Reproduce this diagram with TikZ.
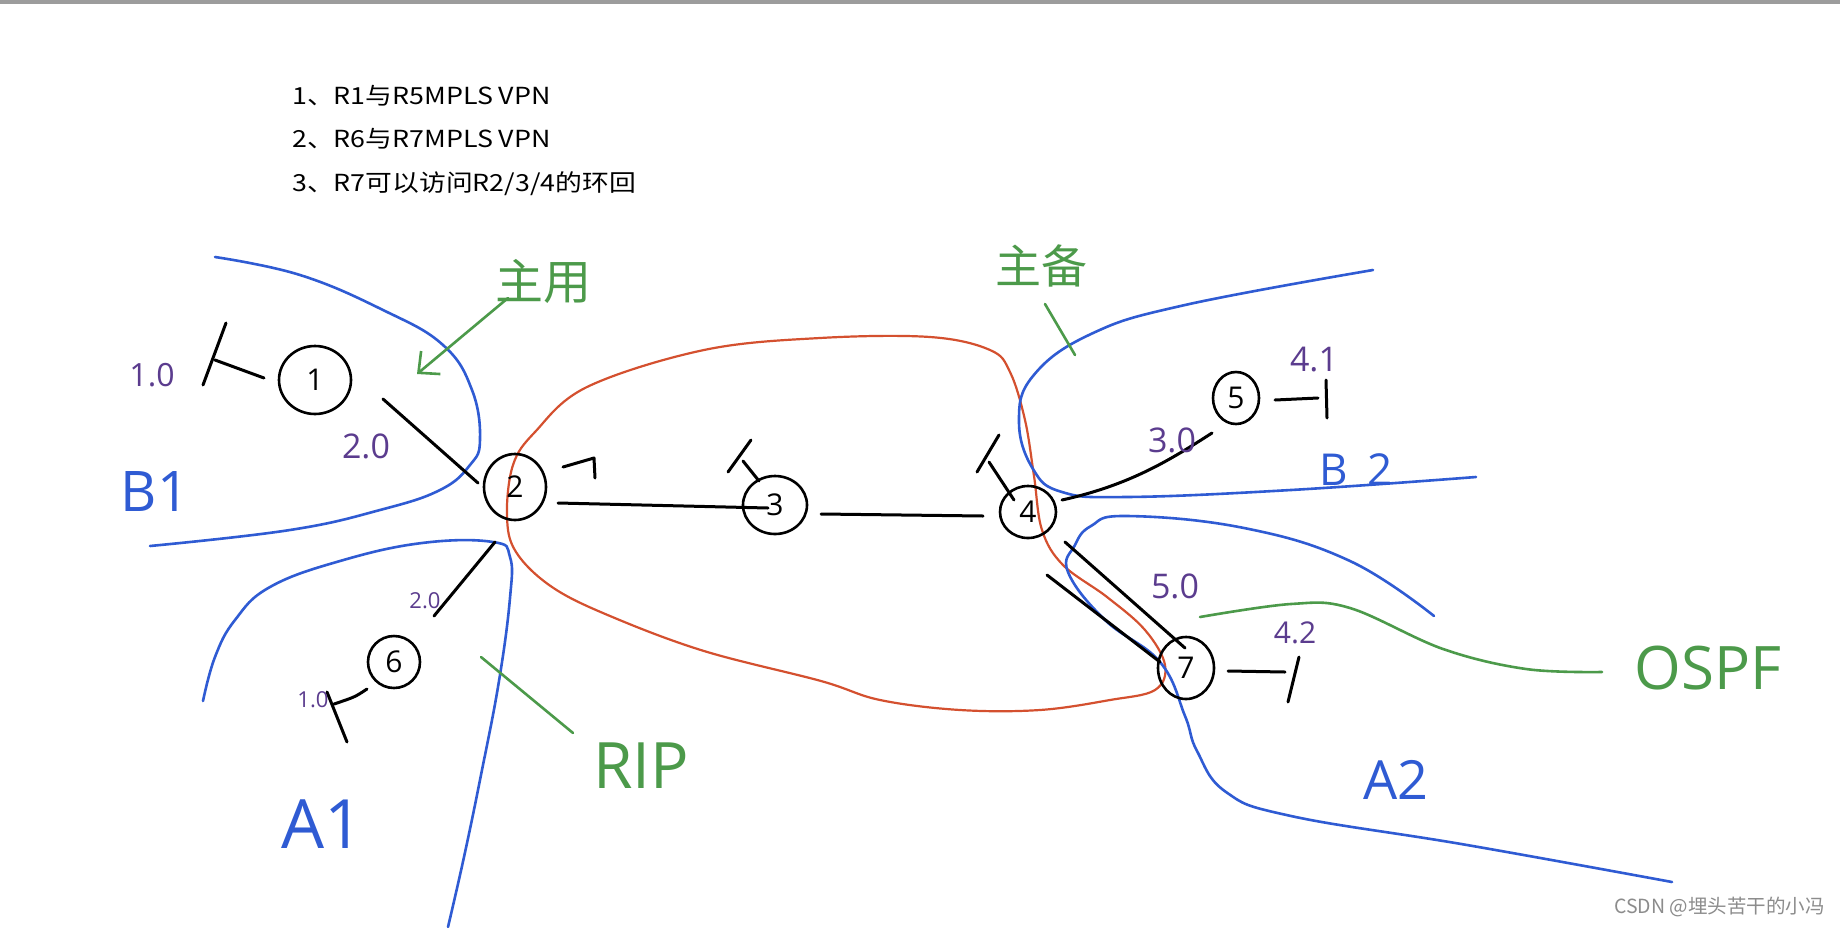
\documentclass[tikz,border=0pt]{standalone}
\usepackage{fontspec}
\setmainfont{Noto Sans CJK SC}
\newfontfamily\listfont[FakeStretch=1.14]{Noto Sans CJK SC}
\newfontfamily\hand{Open Sans}
\newfontfamily\cjkhand{Noto Sans CJK SC}
\usetikzlibrary{shapes.geometric,arrows.meta}
\definecolor{sblue}{HTML}{2F5BD3}
\definecolor{sred}{HTML}{D4502F}
\definecolor{sgreen}{HTML}{4C9A4A}
\definecolor{spurple}{HTML}{5B3C8E}
\definecolor{wm}{HTML}{8C8C8C}
\definecolor{topbar}{HTML}{9C9C9C}
\begin{document}
\begin{tikzpicture}[x=1pt,y=-1pt,
  router/.style={draw=black, line width=2.6pt, ellipse, inner sep=0pt, font=\hand\fontsize{30}{30}\selectfont},
  link/.style={black, line width=3pt, line cap=round, line join=round},
  zone/.style={sblue, line width=2.6pt, line cap=round},
  loopline/.style={sred, line width=2.2pt},
  note/.style={sgreen, line width=2.6pt, line cap=round},
  iplab/.style={text=spurple, inner sep=0pt, font=\hand\fontsize{#1}{#1}\selectfont},
  zonelab/.style={text=sblue, inner sep=0pt, font=\hand\fontsize{#1}{#1}\selectfont},
  notelab/.style={text=sgreen, inner sep=0pt, font=\hand\fontsize{#1}{#1}\selectfont},
  cjknote/.style={text=sgreen, inner sep=0pt, font=\cjkhand\fontsize{#1}{#1}\selectfont},
  listtext/.style={anchor=base west, inner sep=0pt, font=\listfont\fontsize{23.5}{23.5}\selectfont}
]
\useasboundingbox (0,0) rectangle (1840,927);
\fill[white] (0,0) rectangle (1840,927);
\fill[topbar] (0,0) rectangle (1840,4);

% task list
\node[listtext] (t1) at (292,104) {1、R1与R5MPLS VPN};
\node[listtext] (t2) at (292,147) {2、R6与R7MPLS VPN};
\node[listtext] (t3) at (292,191) {3、R7可以访问R2/3/4的环回};

% red loop
\draw[loopline] plot[smooth cycle, tension=0.6] coordinates {(507,516) (513,465) (535,432) (587,387) (704,350) (820,338) (930,337) (990,350) (1010,372) (1025,420) (1034,476) (1042,530) (1063,565) (1107,597) (1145,630) (1165,665) (1155,690) (1110,700) (1040,710) (960,710) (880,700) (821,681) (704,651) (610,616) (552,587) (516,552)};

% blue zones
\draw[zone] plot[smooth, tension=0.7] coordinates {(215,257) (300,275) (383,310) (443,345) (472,390) (480,440) (470,465) (440,490) (380,510) (290,530) (150,546)};
\draw[zone] plot[smooth, tension=0.7] coordinates {(203,701) (215,657) (235,620) (270,587) (340,561) (422,543) (493,542) (510,557) (510,598) (499,681) (481,775) (464,857) (448,927)};
\draw[zone] plot[smooth, tension=0.7] coordinates {(1373,270) (1185,305) (1091,334) (1033,376) (1019,422) (1033,469) (1062,492) (1127,497) (1291,490) (1476,477)};
\draw[zone] plot[smooth, tension=0.7] coordinates {(1434,616) (1350,561) (1244,528) (1127,516) (1091,526) (1075,545) (1068,572) (1105,620) (1160,662) (1185,716) (1197,751) (1226,792) (1291,816) (1467,845) (1672,882)};

% routers
\node[router, minimum width=72pt, minimum height=68pt] (r1) at (315,380) {1};
\node[router, minimum width=62pt, minimum height=66pt] (r2) at (515,487) {2};
\node[router, minimum width=64pt, minimum height=58pt] (r3) at (775,505) {3};
\node[router, minimum width=56pt, minimum height=52pt] (r4) at (1028,512) {4};
\node[router, minimum width=46pt, minimum height=52pt] (r5) at (1236,398) {5};
\node[router, minimum width=52pt, minimum height=52pt] (r6) at (394,662) {6};
\node[router, minimum width=56pt, minimum height=62pt] (r7) at (1186,668) {7};

% link end points
\coordinate (l12a) at (383,399); \coordinate (l12b) at (478,483);
\coordinate (l23a) at (558,503); \coordinate (l23b) at (768,508);
\coordinate (l34a) at (821,514); \coordinate (l34b) at (983,516);
\coordinate (l45a) at (1062,500); \coordinate (l45b) at (1212,433);
\coordinate (l47a) at (1065,542); \coordinate (l47b) at (1185,648);
\coordinate (l47c) at (1047,575); \coordinate (l47d) at (1160,662);
\coordinate (l62a) at (495,542); \coordinate (l62b) at (434,616);

\draw[link] (l12a) -- (l12b);
\draw[link] (l23a) -- (l23b);
\draw[link] (l34a) -- (l34b);
\draw[link] (l45a) .. controls (1130,485) and (1170,460) .. (l45b);
\draw[link] (l47a) -- (l47b);
\draw[link] (l47c) -- (l47d);
\draw[link] (l62a) -- (l62b);

% stubs
\coordinate (s1a) at (264,378); \coordinate (s1b) at (215,360);
\coordinate (s1c) at (226,323); \coordinate (s1d) at (203,385);
\draw[link] (s1a) -- (s1b);
\draw[link] (s1c) -- (s1d);
\coordinate (s2a) at (563,467); \coordinate (s2b) at (594,458); \coordinate (s2c) at (595,478);
\draw[link] (s2a) -- (s2b) -- (s2c);
\coordinate (s3a) at (728,472); \coordinate (s3b) at (751,440);
\coordinate (s3c) at (743,461); \coordinate (s3d) at (759,481);
\draw[link] (s3a) -- (s3b);
\draw[link] (s3c) -- (s3d);
\coordinate (s4a) at (977,472); \coordinate (s4b) at (999,435);
\coordinate (s4c) at (989,462); \coordinate (s4d) at (1014,500);
\draw[link] (s4a) -- (s4b);
\draw[link] (s4c) -- (s4d);
\coordinate (s5a) at (1275,400); \coordinate (s5b) at (1318,398);
\coordinate (s5c) at (1326,380); \coordinate (s5d) at (1327,418);
\draw[link] (s5a) -- (s5b);
\draw[link] (s5c) -- (s5d);
\coordinate (s7a) at (1228,671); \coordinate (s7b) at (1285,672);
\coordinate (s7c) at (1299,657); \coordinate (s7d) at (1288,702);
\draw[link] (s7a) -- (s7b);
\draw[link] (s7c) -- (s7d);
\coordinate (s6a) at (367,689); \coordinate (s6b) at (334,704);
\coordinate (s6c) at (327,692); \coordinate (s6d) at (347,742);
\draw[link] (s6a) .. controls (355,697) .. (s6b);
\draw[link] (s6c) -- (s6d);

% interface labels
\node[iplab=32] (ip1) at (152,375) {1.0};
\node[iplab=34] (ip2) at (366,446) {2.0};
\node[iplab=34] (ip3) at (1172,440) {3.0};
\node[iplab=34] (ip4) at (1314,360) {4.1};
\node[iplab=34] (ip5) at (1175,586) {5.0};
\node[iplab=30] (ip6) at (1295,633) {4.2};
\node[iplab=22] (ip7) at (425,601) {2.0};
\node[iplab=22] (ip8) at (313,700) {1.0};

% area labels
\node[zonelab=56] (b1) at (155,492) {B1};
\node[zonelab=68] (a1) at (322,824) {A1};
\node[zonelab=44] (b2) at (1356,470) {B\hspace{20pt}2};
\node[zonelab=54] (a2) at (1396,780) {A2};

% green notes
\node[cjknote=48] (zy1) at (543,281) {主用};
\coordinate (ar1a) at (508,298); \coordinate (ar1b) at (417,374);
\draw[note, -{Straight Barb[length=16pt,width=30pt]}] (ar1a) -- (ar1b);
\node[cjknote=46] (zy2) at (1041,266) {主备};
\coordinate (g2a) at (1045,304); \coordinate (g2b) at (1075,355);
\draw[note] (g2a) -- (g2b);
\node[notelab=64] (rip) at (641,766) {RIP};
\coordinate (g3a) at (481,657); \coordinate (g3b) at (573,733);
\draw[note] (g3a) -- (g3b);
\node[notelab=60] (ospf) at (1708,668) {OSPF};
\coordinate (g4a) at (1200,617); \coordinate (g4b) at (1602,672);
\draw[note] plot[smooth, tension=0.6] coordinates {(g4a) (1291,604) (1350,608) (1443,649) (1526,669) (g4b)};

% watermark
\node[anchor=east, inner sep=0pt, text=wm, font=\fontsize{19.5}{19.5}\selectfont] (wmk) at (1825,907) {CSDN @埋头苦干的小冯};
\end{tikzpicture}
\end{document}
